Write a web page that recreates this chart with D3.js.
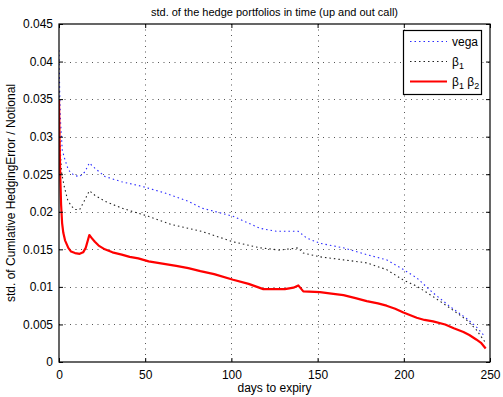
<!DOCTYPE html>
<html><head><meta charset="utf-8">
<script src="https://cdn.jsdelivr.net/npm/d3@7"></script>
<style>
body{margin:0;background:#fff;}
text{font-family:"Liberation Sans",Arial,Helvetica,sans-serif;}
</style></head>
<body><svg id="c" width="503" height="397"></svg>
<script>
const xTicks=[0,50,100,150,200,250];
const yTicks=[0,0.005,0.01,0.015,0.02,0.025,0.03,0.035,0.04,0.045];
const yTickLabels=["0","0.005","0.01","0.015","0.02","0.025","0.03","0.035","0.04","0.045"];

const vegaDays=[0,0.4,0.9,1.9,3.5,5.4,7.4,9.3,12,15,17.6,20.8,26.6,36.3,47.9,61.5,75,82.7,101,116.6,126,138.8,143.7,151.4,165,178.5,190,199.8,207.5,217,226.7,236.4,242,247];
const vegaStd=[0.0415,0.036,0.032,0.0282,0.0269,0.0256,0.0251,0.0248,0.0247,0.0253,0.0265,0.0258,0.0247,0.0240,0.0234,0.0225,0.0214,0.0205,0.0194,0.0178,0.0174,0.0174,0.0165,0.0158,0.0152,0.0143,0.0136,0.0123,0.0112,0.0092,0.0074,0.0058,0.0047,0.0034];

const beta1Days=[0,0.5,1,1.5,3,5,7,9.3,12,15,17.6,20.8,26.6,36.3,46,51.8,65.3,82.7,101,116.6,128,138.8,141.7,151.4,165,178.5,190,199.8,207.5,217,226.7,236.4,242,247];
const beta1Std=[0.036,0.030,0.027,0.0252,0.0234,0.0216,0.0208,0.0203,0.0203,0.0216,0.0228,0.0222,0.0214,0.0205,0.0198,0.0194,0.0183,0.0174,0.0160,0.0152,0.0149,0.0152,0.0145,0.0140,0.0136,0.0132,0.0123,0.0109,0.0101,0.0087,0.0072,0.0056,0.0043,0.0027];

const beta12Days=[0,0.3,0.7,1.2,1.8,2.5,3.5,5.4,7,9.3,12,14,15.5,17.6,19,20.8,23,26.6,31,36.4,41,46,52,60,68,75,82,90,101,110,118.5,131,136,138.8,141.7,151.4,158,165,172,178.5,185,190,195,199.8,207.5,212,217,224,229,234.6,238,242,245,247.5];
const beta12Std=[0.0349,0.030,0.025,0.021,0.0185,0.0172,0.0162,0.0152,0.0147,0.0145,0.0144,0.0146,0.0152,0.0169,0.0165,0.0160,0.0155,0.0150,0.0146,0.0143,0.0140,0.0138,0.0134,0.0131,0.0128,0.0125,0.0121,0.0117,0.01095,0.0104,0.0097,0.0097,0.0099,0.0102,0.0094,0.0093,0.0091,0.0089,0.0085,0.0081,0.0078,0.0075,0.0071,0.0066,0.0059,0.0056,0.0054,0.0050,0.0045,0.0040,0.0036,0.0030,0.0025,0.0018];

const L=59,R=490,T=24,B=362;
const svg=d3.select("#c");
const x=d3.scaleLinear().domain([0,250]).range([L,R]);
const y=d3.scaleLinear().domain([0,0.045]).range([B,T]);

// grid
const g=svg.append("g");
g.selectAll(".gx").data(xTicks.slice(1,-1)).enter().append("line")
 .attr("x1",d=>Math.round(x(d))+0.5).attr("x2",d=>Math.round(x(d))+0.5).attr("y1",T).attr("y2",B)
 .attr("stroke","#555").attr("stroke-width",1).attr("stroke-dasharray","1,4.5");
g.selectAll(".gy").data(yTicks.slice(1,-1)).enter().append("line")
 .attr("y1",d=>Math.round(y(d))+0.5).attr("y2",d=>Math.round(y(d))+0.5).attr("x1",L).attr("x2",R)
 .attr("stroke","#555").attr("stroke-width",1).attr("stroke-dasharray","1,4.5");

svg.append("clipPath").attr("id","clip").append("rect").attr("x",L).attr("y",T).attr("width",R-L).attr("height",B-T);

const line=(xs)=>d3.line().x((d,i)=>x(xs[i])).y(d=>y(d));
const p=svg.append("g").attr("clip-path","url(#clip)");
p.append("path").datum(beta1Std).attr("d",line(beta1Days)).attr("fill","none")
 .attr("stroke","#222").attr("stroke-width",1.1).attr("stroke-dasharray","1.5,3");
p.append("path").datum(vegaStd).attr("d",line(vegaDays)).attr("fill","none")
 .attr("stroke","#2a2aff").attr("stroke-width",1.1).attr("stroke-dasharray","1.5,3");
p.append("path").datum(beta12Std).attr("d",line(beta12Days)).attr("fill","none")
 .attr("stroke","#ff0000").attr("stroke-width",2.2).attr("stroke-linejoin","round");

// axes with inward ticks on all sides
const ax=svg.append("g");
const xb=d3.axisBottom(x).tickValues(xTicks).tickSizeInner(-4).tickSizeOuter(0).tickPadding(8);
ax.append("g").attr("transform",`translate(0,${B})`).call(xb);
const xt=d3.axisTop(x).tickValues(xTicks).tickSizeInner(-4).tickSizeOuter(0).tickFormat("");
ax.append("g").attr("transform",`translate(0,${T})`).call(xt);
const yl=d3.axisLeft(y).tickValues(yTicks).tickSizeInner(-4).tickSizeOuter(0).tickPadding(6).tickFormat((d,i)=>yTickLabels[i]);
ax.append("g").attr("transform",`translate(${L},0)`).call(yl);
const yr=d3.axisRight(y).tickValues(yTicks).tickSizeInner(-4).tickSizeOuter(0).tickFormat("");
ax.append("g").attr("transform",`translate(${R},0)`).call(yr);
ax.selectAll("text").attr("font-size",12).attr("fill","#000").style("font-family","'Liberation Sans',Arial,sans-serif");
ax.selectAll(".domain").remove();
ax.selectAll(".tick line").attr("stroke","#000");
svg.append("rect").attr("x",L).attr("y",T).attr("width",R-L).attr("height",B-T)
 .attr("fill","none").attr("stroke","#000").attr("stroke-width",1.2);

// labels
svg.append("text").attr("x",(L+R)/2).attr("y",16).attr("text-anchor","middle").attr("font-size",11).text("std. of the hedge portfolios in time (up and out call)");
svg.append("text").attr("x",(L+R)/2).attr("y",392).attr("text-anchor","middle").attr("font-size",12).text("days to expiry");
svg.append("text").attr("transform",`translate(15,${(T+B)/2}) rotate(-90)`).attr("text-anchor","middle").attr("font-size",12).text("std. of Cumlative HedgingError / Notional");

// legend
const lg=svg.append("g");
lg.append("rect").attr("x",403.5).attr("y",30.5).attr("width",78).attr("height",64).attr("fill","#fff").attr("stroke","#000").attr("stroke-width",1.2);
const items=[
 {label:"vega",color:"#2a2aff",dash:"1.5,3",w:1.1,y:41.5},
 {label:"β1",color:"#222",dash:"1.5,3",w:1.1,y:61.5},
 {label:"β1β2",color:"#ff0000",dash:null,w:2.2,y:81.5}
];
items.forEach(it=>{
 lg.append("line").attr("x1",410).attr("x2",447).attr("y1",it.y).attr("y2",it.y)
   .attr("stroke",it.color).attr("stroke-width",it.w).attr("stroke-dasharray",it.dash);
});
lg.append("text").attr("x",452).attr("y",45.5).attr("font-size",12).text("vega");
const t1=lg.append("text").attr("x",452).attr("y",65.5).attr("font-size",12);
t1.append("tspan").text("β");t1.append("tspan").attr("font-size",9).attr("dy",3).text("1");
const t2=lg.append("text").attr("x",452).attr("y",85.5).attr("font-size",12);
t2.append("tspan").text("β");t2.append("tspan").attr("font-size",9).attr("dy",3).text("1");
t2.append("tspan").attr("dy",-3).text(" β");t2.append("tspan").attr("font-size",9).attr("dy",3).text("2");
</script></body></html>
